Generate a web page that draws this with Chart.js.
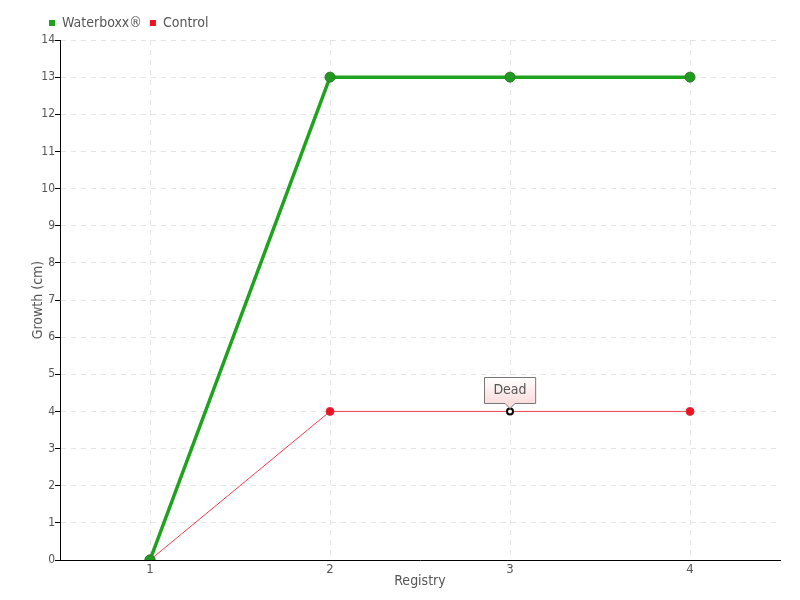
<!DOCTYPE html>
<html lang="en">
<head>
    <meta charset="UTF-8">
    <title>Waterboxx Growth</title>
    <style>
        body { margin: 0; background: #fff; }
        .chart-container { position: relative; width: 800px; height: 600px; }
    </style>
</head>
<body>
    <div class="chart-container">
        <canvas id="growthChart" width="800" height="600"></canvas>
    </div>

    <script src="https://cdn.jsdelivr.net/npm/chart.js@4.4.0/dist/chart.umd.min.js"></script>
    <script>
        const registries = ['1', '2', '3', '4'];
        const waterboxxGrowth = [0, 13, 13, 13];
        const controlGrowth = [0, 4, 4, 4];
        const controlNotes = ['', '', 'Dead', ''];
        const yTicks = [0, 1, 2, 3, 4, 5, 6, 7, 8, 9, 10, 11, 12, 13, 14];

        const FONT = '"DejaVu Sans Condensed", "DejaVu Sans", sans-serif';
        const TEXT = '#555';

        // draws the "Dead" callout above the marked control point
        const notePlugin = {
            id: 'notes',
            afterDatasetsDraw(chart) {
                const ctx = chart.ctx;
                const xs = chart.scales.x, ys = chart.scales.y;
                controlNotes.forEach((note, i) => {
                    if (!note) return;
                    const px = xs.getPixelForValue(i);
                    const py = ys.getPixelForValue(controlGrowth[i]);
                    ctx.save();
                    ctx.font = '14px ' + FONT;
                    const w = ctx.measureText(note).width + 18;
                    const h = 26;
                    const left = Math.round(px - w / 2) + 0.5;
                    const top = Math.round(py - 8 - h) + 0.5;
                    const grad = ctx.createLinearGradient(0, top, 0, top + h);
                    grad.addColorStop(0, '#ffffff');
                    grad.addColorStop(1, '#fbdcdc');
                    ctx.beginPath();
                    ctx.moveTo(left, top);
                    ctx.lineTo(left + w, top);
                    ctx.lineTo(left + w, top + h);
                    ctx.lineTo(px + 5, top + h);
                    ctx.lineTo(px, top + h + 5);
                    ctx.lineTo(px - 5, top + h);
                    ctx.lineTo(left, top + h);
                    ctx.closePath();
                    ctx.fillStyle = grad;
                    ctx.fill();
                    ctx.strokeStyle = '#777';
                    ctx.lineWidth = 1;
                    ctx.stroke();
                    ctx.fillStyle = TEXT;
                    ctx.textAlign = 'center';
                    ctx.textBaseline = 'middle';
                    ctx.fillText(note, px, top + h / 2);
                    ctx.restore();
                });
            }
        };

        new Chart(document.getElementById('growthChart'), {
            type: 'line',
            data: {
                labels: registries,
                datasets: [{
                    label: 'Waterboxx®',
                    data: waterboxxGrowth,
                    borderColor: '#1fa31f',
                    backgroundColor: '#1fa31f',
                    borderWidth: 3.5,
                    pointRadius: 5,
                    pointBackgroundColor: '#1f9a1f',
                    pointBorderColor: '#2f7a2f',
                    pointBorderWidth: 1,
                    tension: 0
                }, {
                    label: 'Control',
                    data: controlGrowth,
                    borderColor: '#f04050',
                    backgroundColor: '#ee1122',
                    borderWidth: 1,
                    pointRadius: [5, 4, 3, 4],
                    pointBackgroundColor: ['#ee1122', '#ee1122', '#ffffff', '#ee1122'],
                    pointBorderColor: ['#2f7a2f', '#e03040', '#000000', '#e03040'],
                    pointBorderWidth: [1, 1, 2, 1],
                    tension: 0
                }]
            },
            options: {
                responsive: false,
                animation: false,
                layout: { padding: { top: 8, right: 20, left: 41, bottom: 0 } },
                plugins: {
                    tooltip: { enabled: false },
                    legend: {
                        display: true,
                        position: 'top',
                        align: 'start',
                        labels: {
                            boxWidth: 6,
                            boxHeight: 6,
                            padding: 8,
                            color: TEXT,
                            font: { family: FONT, size: 14 },
                            generateLabels(chart) {
                                return chart.data.datasets.map((ds, i) => ({
                                    text: ds.label,
                                    fillStyle: ds.backgroundColor,
                                    strokeStyle: ds.backgroundColor,
                                    lineWidth: 0,
                                    fontColor: TEXT,
                                    datasetIndex: i
                                }));
                            }
                        }
                    }
                },
                scales: {
                    x: {
                        offset: true,
                        grid: {
                            offset: false,
                            color: '#e4e4e4',
                            drawTicks: false
                        },
                        border: { display: true, color: '#000', width: 1, dash: [5, 5] },
                        ticks: { color: TEXT, font: { family: FONT, size: 13 }, padding: 2 },
                        title: {
                            display: true,
                            text: 'Registry',
                            color: TEXT,
                            font: { family: FONT, size: 14 },
                            padding: { top: 0, bottom: 10 }
                        },
                        afterFit(scale) { scale.height = 40; }
                    },
                    y: {
                        min: 0,
                        max: 14,
                        afterBuildTicks(scale) { scale.ticks = yTicks.map(v => ({ value: v })); },
                        grid: {
                            color: '#e4e4e4',
                            drawTicks: true,
                            tickLength: 5,
                            tickColor: '#000',
                            tickBorderDash: []
                        },
                        border: { display: true, color: '#000', width: 1, dash: [5, 5] },
                        ticks: { color: TEXT, font: { family: FONT, size: 12 }, padding: 0 },
                        title: {
                            display: true,
                            text: 'Growth (cm)',
                            color: TEXT,
                            font: { family: FONT, size: 14 },
                            padding: { top: -11, bottom: 0 }
                        },
                        afterFit(scale) { scale.width = 19; }
                    }
                }
            },
            plugins: [notePlugin]
        });
    </script>
</body>
</html>
